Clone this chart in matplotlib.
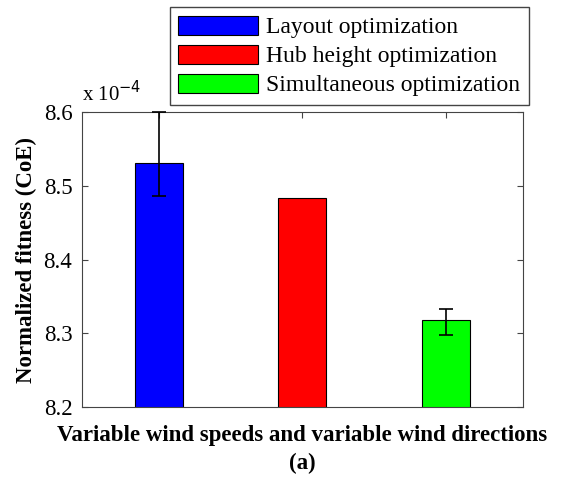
import numpy as np
import matplotlib.pyplot as plt
from matplotlib.patches import Patch

# Normalized fitness (CoE), in units of 1e-4
methods = ["Layout optimization", "Hub height optimization", "Simultaneous optimization"]
fitness = [8.531, 8.484, 8.318]
err_low = [0.0445, 0.0, 0.0206]
err_high = [0.069, 0.0, 0.0155]
colors = ["#0000ff", "#ff0000", "#00ff00"]

plt.rcParams['font.family'] = ['Liberation Serif', 'DejaVu Serif']

fig = plt.figure(figsize=(5.65, 4.83), dpi=100)
ax = fig.add_axes([0.1451, 0.1573, 0.7806, 0.6108])

x = np.arange(1, len(methods) + 1)
ax.bar(x, fitness, width=0.335, color=colors, edgecolor='black', linewidth=0.8, zorder=2)
ax.errorbar(x[[0, 2]], np.array(fitness)[[0, 2]],
            yerr=[np.array(err_low)[[0, 2]], np.array(err_high)[[0, 2]]],
            fmt='none', ecolor='black', elinewidth=1.2, capsize=5, capthick=1.2,
            zorder=3, clip_on=False)

ax.set_xlim(0.463, 3.54)
ax.set_ylim(8.2, 8.6)
ax.set_yticks([8.2, 8.3, 8.4, 8.5, 8.6])
ax.set_yticklabels(["8.2", "8.3", "8.4", "8.5", "8.6"])
ax.set_xticks(x)
ax.set_xticklabels([])
ax.tick_params(direction='in', top=True, right=True, labelsize=16.5, length=4,
               color='#444444', pad=7)
for s in ax.spines.values():
    s.set_color('#444444')

ax.set_ylabel("Normalized fitness (CoE)", fontsize=16.5, fontweight='bold', labelpad=4.5)
ax.set_xlabel("Variable wind speeds and variable wind directions\n(a)",
              fontsize=16.5, fontweight='bold', labelpad=6, linespacing=1.45)
ax.text(0.0, 1.02, r"x 10$^{-4}$", transform=ax.transAxes, fontsize=15,
        ha='left', va='bottom')

handles = [Patch(facecolor=c, edgecolor='black', linewidth=0.8) for c in colors]
fig.legend(handles, methods, loc='upper right', bbox_to_anchor=(529 / 565, 1 - 7 / 483),
           fontsize=17, handlelength=3.4, handleheight=0.89, labelspacing=0.26,
           handletextpad=0.34, borderpad=0.36, borderaxespad=0, fancybox=False,
           framealpha=1, edgecolor='#444444')

fig.savefig("out.png", dpi=100)
